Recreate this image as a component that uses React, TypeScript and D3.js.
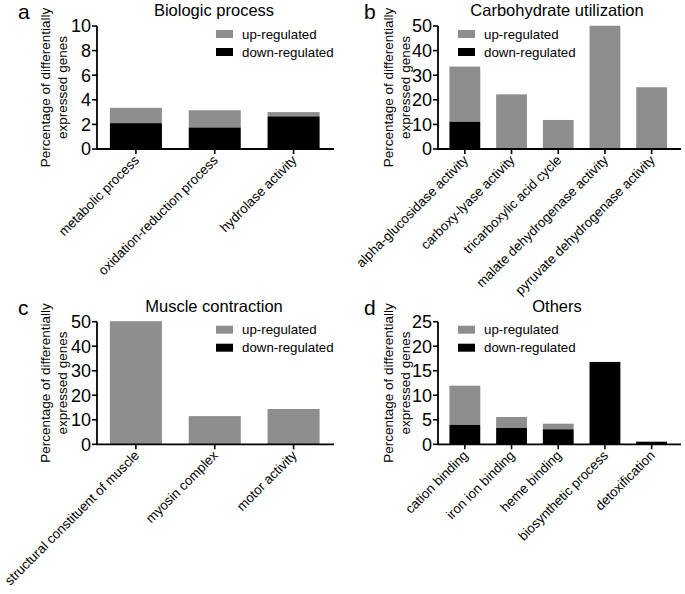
import * as d3 from 'd3';

// categories per panel
const CATS_A = ['metabolic process', 'oxidation-reduction process', 'hydrolase activity'];
const CATS_B = [
  'alpha-glucosidase activity',
  'carboxy-lyase activity',
  'tricarboxylic acid cycle',
  'malate dehydrogenase activity',
  'pyruvate dehydrogenase activity',
];
const CATS_C = ['structural constituent of muscle', 'myosin complex', 'motor activity'];
const CATS_D = ['cation binding', 'iron ion binding', 'heme binding', 'biosynthetic process', 'detoxification'];

// down-regulated (bottom, black) and up-regulated (stacked, gray) percentages
const DOWN_A = [2.1, 1.75, 2.65];
const UP_A = [1.25, 1.4, 0.35];
const DOWN_B = [11.1, 0, 0, 0, 0];
const UP_B = [22.4, 22.2, 11.8, 50.1, 25.1];
const DOWN_C = [0, 0, 0];
const UP_C = [50.2, 11.5, 14.4];
const DOWN_D = [3.95, 3.33, 3.06, 16.8, 0.53];
const UP_D = [8.0, 2.24, 1.14, 0, 0];

const TICKS_A = [0, 2, 4, 6, 8, 10];
const TICKS_B = [0, 10, 20, 30, 40, 50];
const TICKS_C = [0, 10, 20, 30, 40, 50];
const TICKS_D = [0, 5, 10, 15, 20, 25];

const GRAY = '#8e8e8e';
const FONT = '"Liberation Sans", Arial, Helvetica, sans-serif';

interface PanelCfg {
  letter: string;
  title: string;
  cats: string[];
  down: number[];
  up: number[];
  ticks: number[];
  axisX: number;
  band: [number, number];
  axisEnd: number;
  yTop: number;
  yBottom: number;
  titleX: number;
  letterX: number;
  legendX: number;
  labelX: number;
}

const LEFT = { axisX: 97, band: [96.5, 333] as [number, number], axisEnd: 334, titleX: 214, letterX: 18, legendX: 216, labelX: 50 };
const RIGHT = { axisX: 438, band: [441.5, 675] as [number, number], axisEnd: 681, titleX: 557, letterX: 364, legendX: 458, labelX: 393 };
const TOP = { yTop: 26, yBottom: 149 };
const BOTTOM = { yTop: 321.7, yBottom: 444.3 };

const PANELS: PanelCfg[] = [
  { letter: 'a', title: 'Biologic process', cats: CATS_A, down: DOWN_A, up: UP_A, ticks: TICKS_A, ...LEFT, ...TOP },
  { letter: 'b', title: 'Carbohydrate utilization', cats: CATS_B, down: DOWN_B, up: UP_B, ticks: TICKS_B, ...RIGHT, ...TOP },
  { letter: 'c', title: 'Muscle contraction', cats: CATS_C, down: DOWN_C, up: UP_C, ticks: TICKS_C, ...LEFT, ...BOTTOM },
  { letter: 'd', title: 'Others', cats: CATS_D, down: DOWN_D, up: UP_D, ticks: TICKS_D, ...RIGHT, ...BOTTOM },
];

function Panel({ cfg }: { cfg: PanelCfg }) {
  const yMax = cfg.ticks[cfg.ticks.length - 1];
  const y = d3.scaleLinear().domain([0, yMax]).range([cfg.yBottom, cfg.yTop]);
  const x = d3.scaleBand().domain(cfg.cats).range(cfg.band).paddingInner(0.34).paddingOuter(0.17);
  const bw = x.bandwidth();
  const midY = (cfg.yTop + cfg.yBottom) / 2;

  return (
    <g fontFamily={FONT}>
      <text x={cfg.letterX} y={cfg.yTop - 7} fontSize={21}>{cfg.letter}</text>
      <text x={cfg.titleX} y={cfg.yTop - 10} fontSize={16.5} textAnchor="middle">{cfg.title}</text>

      {/* y label */}
      <g transform={`translate(${cfg.labelX},${midY}) rotate(-90)`} fontSize={13.5} textAnchor="middle">
        <text x={0} y={0}>Percentage of differentially</text>
        <text x={0} y={17}>expressed genes</text>
      </g>

      {/* bars */}
      {cfg.cats.map((c, i) => {
        const d = cfg.down[i];
        const u = cfg.up[i];
        return (
          <g key={c}>
            {u > 0 && (
              <rect x={x(c)} y={y(d + u)} width={bw} height={y(d) - y(d + u)} fill={GRAY} />
            )}
            {d > 0 && <rect x={x(c)} y={y(d)} width={bw} height={y(0) - y(d)} fill="#000" />}
          </g>
        );
      })}

      {/* y axis */}
      <line x1={cfg.axisX} x2={cfg.axisX} y1={cfg.yTop} y2={cfg.yBottom} stroke="#000" strokeWidth={1.8} />
      {cfg.ticks.map((t) => (
        <g key={t}>
          <line x1={cfg.axisX - 5} x2={cfg.axisX} y1={y(t)} y2={y(t)} stroke="#000" strokeWidth={1.6} />
          <text x={cfg.axisX - 6} y={y(t)} dy="0.36em" textAnchor="end" fontSize={18}>{t}</text>
        </g>
      ))}

      {/* x axis */}
      <line x1={cfg.axisX - 0.9} x2={cfg.axisEnd} y1={cfg.yBottom} y2={cfg.yBottom} stroke="#000" strokeWidth={1.8} />
      {cfg.cats.map((c) => {
        const cx = x(c)! + bw / 2;
        return (
          <g key={c}>
            <line x1={cx} x2={cx} y1={cfg.yBottom} y2={cfg.yBottom + 5} stroke="#000" strokeWidth={1.6} />
            <text
              transform={`translate(${cx + 4},${cfg.yBottom + 12}) rotate(-45)`}
              textAnchor="end"
              fontSize={13.3}
            >
              {c}
            </text>
          </g>
        );
      })}

      {/* legend */}
      <g transform={`translate(${cfg.legendX},${cfg.yTop + 8})`} fontSize={13.3}>
        <rect x={0} y={-4} width={17} height={8} fill={GRAY} />
        <text x={26} y={0} dy="0.35em">up-regulated</text>
        <rect x={0} y={14} width={17} height={8} fill="#000" />
        <text x={26} y={18} dy="0.35em">down-regulated</text>
      </g>
    </g>
  );
}

export default function App() {
  return (
    <svg
      width={685}
      height={594}
      viewBox="0 0 685 594"
      style={{ position: 'absolute', left: 0, top: 0, background: '#fff' }}
    >
      <rect width={685} height={594} fill="#fff" />
      {PANELS.map((p) => (
        <Panel key={p.letter} cfg={p} />
      ))}
    </svg>
  );
}
